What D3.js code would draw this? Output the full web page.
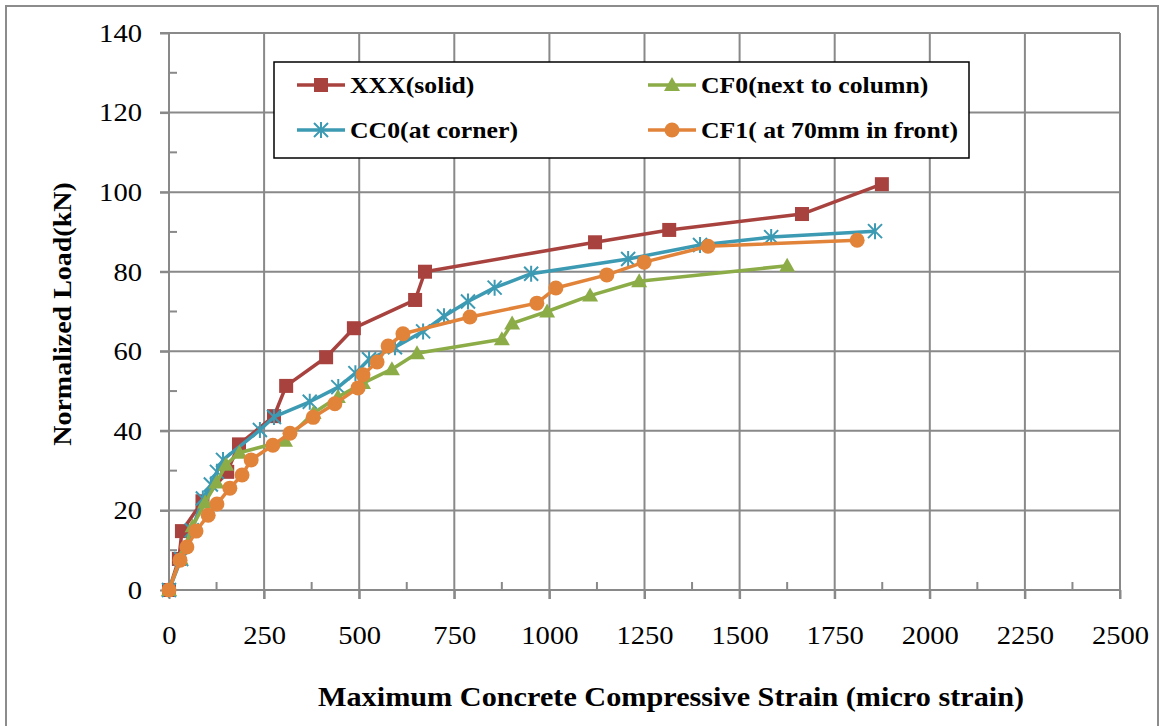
<!DOCTYPE html>
<html>
<head>
<meta charset="utf-8">
<script src="https://cdn.jsdelivr.net/npm/d3@7"></script>
<style>
  body { margin: 0; background: #fff; }
  svg { display: block; }
  text { font-family: "Liberation Serif", "Times New Roman", serif; fill: #000; }
</style>
</head>
<body>
<svg id="chart" width="1164" height="726"></svg>
<script>
// data: [strain, load]
var xxxSolid = [[0,0],[26,7.8],[34,14.8],[88,22.3],[153,29.7],[184,36.6],[276,43.7],[308,51.3],
  [413,58.5],[486,65.8],[647,72.9],[673,80],[1120,87.4],[1315,90.5],[1664,94.5],[1874,102]];
var cc0Corner = [[0,0],[32,7.8],[60,15],[89,23],[110,26.5],[126,29.7],[142,32.7],[239,40.2],
  [276,43.5],[370,47.3],[445,51],[490,54.5],[526,58],[594,61],[668,65],[723,68.8],[786,72.5],
  [856,76],[952,79.5],[1207,83.2],[1396,86.7],[1583,88.7],[1856,90.2]];
var cf0Column = [[0,0],[30,8],[62,16],[95,22],[125,27],[150,31.5],[185,34.5],[305,37.5],
  [380,44.5],[444,48.5],[510,52],[586,55.5],[652,59.5],[875,63],[902,67],[994,70],
  [1107,74],[1236,77.6],[1625,81.5]];
var cf1Front = [[0,0],[29,7.5],[47,10.8],[71,14.8],[103,18.8],[126,21.6],[160,25.6],[192,28.9],
  [216,32.7],[273,36.4],[318,39.4],[379,43.4],[436,46.8],[497,50.8],[510,54.1],[547,57.3],
  [576,61.3],[615,64.4],[791,68.6],[967,72.1],[1017,75.9],[1151,79.2],[1249,82.4],
  [1417,86.4],[1809,87.9]];

var seriesNames = ["XXX(solid)", "CF0(next to column)", "CC0(at corner)", "CF1( at 70mm in front)"];
var xTicks = [0,250,500,750,1000,1250,1500,1750,2000,2250,2500];
var yTicks = [0,20,40,60,80,100,120,140];

var series = [
  {name: seriesNames[0], data: xxxSolid, color: "#a8423f", marker: "square"},
  {name: seriesNames[1], data: cf0Column, color: "#8cac48", marker: "triangle"},
  {name: seriesNames[2], data: cc0Corner, color: "#3c9ab3", marker: "star"},
  {name: seriesNames[3], data: cf1Front, color: "#e2833a", marker: "circle"}
];

var svg = d3.select("#chart");
var L = 169, R = 1120, T = 33, B = 590;
var x = d3.scaleLinear().domain([0,2500]).range([L,R]);
var y = d3.scaleLinear().domain([0,140]).range([B,T]);
var grid = "#898989";
var stretch = 1.1; // text in the picture is a bit wide

// outer frame
svg.append("rect").attr("x",6).attr("y",6).attr("width",1152).attr("height",730)
  .attr("fill","none").attr("stroke","#8c8c8c").attr("stroke-width",2);

// grid lines
svg.append("g").selectAll("line").data(yTicks.slice(1)).enter().append("line")
  .attr("x1",L-9).attr("x2",R).attr("y1",function(d){return y(d);}).attr("y2",function(d){return y(d);})
  .attr("stroke",grid).attr("stroke-width",2);
svg.append("g").selectAll("line").data(xTicks.slice(1)).enter().append("line")
  .attr("y1",T).attr("y2",B+9).attr("x1",function(d){return x(d);}).attr("x2",function(d){return x(d);})
  .attr("stroke",grid).attr("stroke-width",2);

// axes
var yAxis = d3.axisLeft(y).tickValues(yTicks).tickFormat(d3.format("d")).tickSize(9);
var gy = svg.append("g").attr("transform","translate("+L+",0)").call(yAxis);
var xAxis = d3.axisBottom(x).tickValues(xTicks).tickFormat(d3.format("d")).tickSize(9).tickPadding(27);
var gx = svg.append("g").attr("transform","translate(0,"+B+")").call(xAxis);
[gy, gx].forEach(function(g){
  g.select(".domain").attr("stroke",grid).attr("stroke-width",2);
  g.selectAll(".tick line").attr("stroke",grid).attr("stroke-width",2);
  g.selectAll(".tick text").attr("font-family","Liberation Serif").attr("font-size",26).attr("fill","#000");
});
gy.selectAll(".tick text").attr("x",-27/stretch).attr("transform","scale("+stretch+",1)");
gx.selectAll(".tick text").attr("transform","scale("+stretch+",1)");
gy.select(".domain").attr("d","M0,"+T+"V"+B);
gx.select(".domain").attr("d","M"+L+",0H"+R);

// minor ticks
var yMinor = d3.range(10,140,20);
svg.append("g").selectAll("line").data(yMinor).enter().append("line")
  .attr("x1",L).attr("x2",L+8).attr("y1",function(d){return y(d);}).attr("y2",function(d){return y(d);})
  .attr("stroke",grid).attr("stroke-width",2);
var xMinor = d3.range(125,2500,250);
svg.append("g").selectAll("line").data(xMinor).enter().append("line")
  .attr("y1",B).attr("y2",B-8).attr("x1",function(d){return x(d);}).attr("x2",function(d){return x(d);})
  .attr("stroke",grid).attr("stroke-width",2);

// markers
function drawMarker(g, type, color, cx, cy) {
  if (type == "square") {
    g.append("rect").attr("x",cx-7).attr("y",cy-7).attr("width",14).attr("height",14).attr("fill",color);
  } else if (type == "triangle") {
    g.append("path").attr("d","M"+cx+","+(cy-8)+"L"+(cx+8)+","+(cy+6)+"L"+(cx-8)+","+(cy+6)+"Z").attr("fill",color);
  } else if (type == "circle") {
    g.append("circle").attr("cx",cx).attr("cy",cy).attr("r",7.5).attr("fill",color);
  } else {
    var s = 7;
    var p = "M"+(cx-s)+","+(cy-s)+"L"+(cx+s)+","+(cy+s)+"M"+(cx+s)+","+(cy-s)+"L"+(cx-s)+","+(cy+s)+"M"+cx+","+(cy-s-1)+"L"+cx+","+(cy+s+1);
    g.append("path").attr("d",p).attr("stroke",color).attr("stroke-width",2).attr("fill","none");
  }
}

var line = d3.line().x(function(d){return x(d[0]);}).y(function(d){return y(d[1]);});
// draw order: red, blue, green, orange on top
[series[0], series[2], series[1], series[3]].forEach(function(s){
  var g = svg.append("g");
  g.append("path").datum(s.data).attr("d",line).attr("fill","none")
    .attr("stroke",s.color).attr("stroke-width",3.5).attr("stroke-linejoin","round");
  s.data.forEach(function(d){ drawMarker(g, s.marker, s.color, x(d[0]), y(d[1])); });
});

// legend
var lg = svg.append("g");
lg.append("rect").attr("x",274).attr("y",62).attr("width",695).attr("height",96)
  .attr("fill","#fff").attr("stroke","#000").attr("stroke-width",1.5);
var legendPos = [[297,85],[648,85],[297,130],[648,130]];
series.forEach(function(s,i){
  var px = legendPos[i][0], py = legendPos[i][1];
  lg.append("line").attr("x1",px).attr("x2",px+48).attr("y1",py).attr("y2",py)
    .attr("stroke",s.color).attr("stroke-width",3.5);
  drawMarker(lg, s.marker, s.color, px+24, py);
  lg.append("text").attr("transform","translate("+(px+53)+","+(py+8)+") scale(1.12,1)")
    .attr("font-size",23).attr("font-weight","bold").text(s.name);
});

// axis titles
svg.append("text").attr("transform","translate(671,706) scale(1.12,1)").attr("text-anchor","middle")
  .attr("font-size",27).attr("font-weight","bold").text("Maximum Concrete Compressive Strain (micro strain)");
svg.append("text").attr("transform","translate(71,314) rotate(-90) scale(1.12,1)").attr("text-anchor","middle")
  .attr("font-size",25).attr("font-weight","bold").text("Normalized Load(kN)");
</script>
</body>
</html>
